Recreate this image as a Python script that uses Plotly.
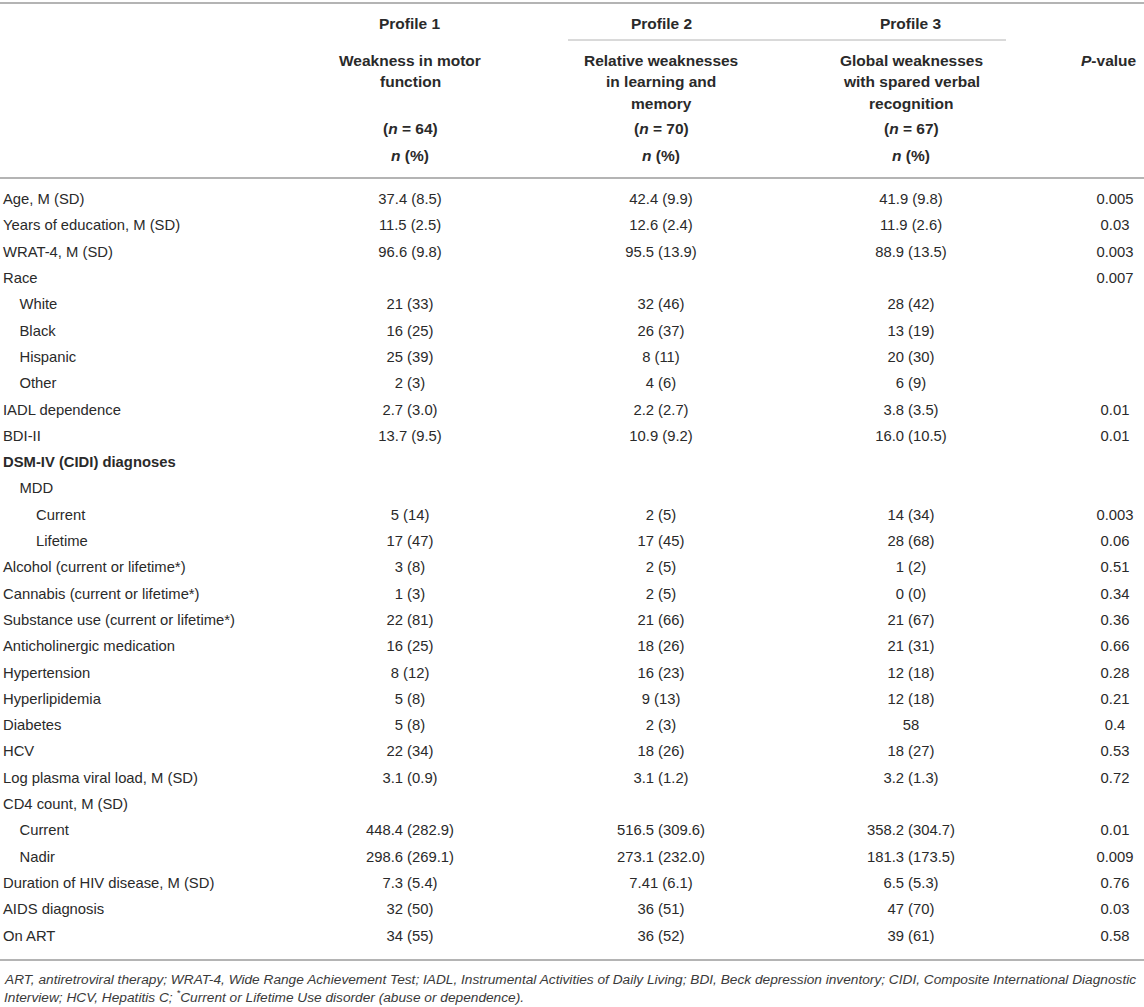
import plotly.graph_objects as go

# ---- table content ----
row_labels = [
    "Age, M (SD)", "Years of education, M (SD)", "WRAT-4, M (SD)", "Race",
    "White", "Black", "Hispanic", "Other", "IADL dependence", "BDI-II",
    "<b>DSM-IV (CIDI) diagnoses</b>", "MDD", "Current", "Lifetime",
    "Alcohol (current or lifetime*)", "Cannabis (current or lifetime*)",
    "Substance use (current or lifetime*)", "Anticholinergic medication",
    "Hypertension", "Hyperlipidemia", "Diabetes", "HCV",
    "Log plasma viral load, M (SD)", "CD4 count, M (SD)", "Current", "Nadir",
    "Duration of HIV disease, M (SD)", "AIDS diagnosis", "On ART",
]
row_indent = [0, 0, 0, 0, 1, 1, 1, 1, 0, 0, 0, 1, 2, 2, 0, 0, 0, 0, 0, 0, 0, 0,
              0, 0, 1, 1, 0, 0, 0]

profile1 = ["37.4 (8.5)", "11.5 (2.5)", "96.6 (9.8)", "", "21 (33)", "16 (25)",
            "25 (39)", "2 (3)", "2.7 (3.0)", "13.7 (9.5)", "", "", "5 (14)",
            "17 (47)", "3 (8)", "1 (3)", "22 (81)", "16 (25)", "8 (12)", "5 (8)",
            "5 (8)", "22 (34)", "3.1 (0.9)", "", "448.4 (282.9)", "298.6 (269.1)",
            "7.3 (5.4)", "32 (50)", "34 (55)"]
profile2 = ["42.4 (9.9)", "12.6 (2.4)", "95.5 (13.9)", "", "32 (46)", "26 (37)",
            "8 (11)", "4 (6)", "2.2 (2.7)", "10.9 (9.2)", "", "", "2 (5)",
            "17 (45)", "2 (5)", "2 (5)", "21 (66)", "18 (26)", "16 (23)", "9 (13)",
            "2 (3)", "18 (26)", "3.1 (1.2)", "", "516.5 (309.6)", "273.1 (232.0)",
            "7.41 (6.1)", "36 (51)", "36 (52)"]
profile3 = ["41.9 (9.8)", "11.9 (2.6)", "88.9 (13.5)", "", "28 (42)", "13 (19)",
            "20 (30)", "6 (9)", "3.8 (3.5)", "16.0 (10.5)", "", "", "14 (34)",
            "28 (68)", "1 (2)", "0 (0)", "21 (67)", "21 (31)", "12 (18)", "12 (18)",
            "58", "18 (27)", "3.2 (1.3)", "", "358.2 (304.7)", "181.3 (173.5)",
            "6.5 (5.3)", "47 (70)", "39 (61)"]
p_values = ["0.005", "0.03", "0.003", "0.007", "", "", "", "", "0.01", "0.01",
            "", "", "0.003", "0.06", "0.51", "0.34", "0.36", "0.66", "0.28",
            "0.21", "0.4", "0.53", "0.72", "", "0.01", "0.009", "0.76", "0.03",
            "0.58"]

profile_titles = ["Profile 1", "Profile 2", "Profile 3"]
profile_desc = [
    ["Weakness in motor", "function"],
    ["Relative weaknesses", "in learning and", "memory"],
    ["Global weaknesses", "with spared verbal", "recognition"],
]
profile_n = [64, 70, 67]

footnote = [
    "ART, antiretroviral therapy; WRAT-4, Wide Range Achievement Test; IADL, "
    "Instrumental Activities of Daily Living; BDI, Beck depression inventory; "
    "CIDI, Composite International Diagnostic",
    "Interview; HCV, Hepatitis C; <sup>*</sup>Current or Lifetime Use disorder "
    "(abuse or dependence).",
]

# ---- layout constants (pixels) ----
W, H = 1144, 1007
col_x = [410, 661, 911]
p_x = 1115
row_top, row_h = 200.5, 26.3
label_x, indent_w = 3, 16.5
FONT = "Liberation Sans, Arial, sans-serif"
TXT = "#2a2a2a"
RULE = "#b4b4b4"

row_y = [row_top + i * row_h for i in range(len(row_labels))]

fig = go.Figure()


def text_column(xs, vals, pos):
    # skip blank cells so no empty text nodes get drawn
    keep = [i for i, v in enumerate(vals) if v]
    fig.add_trace(go.Scatter(
        x=[xs[i] for i in keep], y=[row_y[i] for i in keep],
        text=[vals[i] for i in keep], mode="text", textposition=pos,
        textfont=dict(family=FONT, size=14.8, color=TXT),
        hoverinfo="skip", showlegend=False,
    ))


text_column([label_x + k * indent_w for k in row_indent], row_labels, "middle right")
for cx, vals in zip(col_x + [p_x], [profile1, profile2, profile3, p_values]):
    text_column([cx] * len(vals), vals, "middle center")

annots = []
def hdr(x, y, text):
    annots.append(dict(x=x, y=y, xref="x", yref="y", text=text, showarrow=False,
                       xanchor="center", yanchor="middle",
                       font=dict(family=FONT, size=15.5, color=TXT)))

for cx, title, desc, n in zip(col_x, profile_titles, profile_desc, profile_n):
    hdr(cx, 23, "<b>%s</b>" % title)
    for j, line in enumerate(desc):
        hdr(cx, 60 + j * 21.5, "<b>%s</b>" % line)
    hdr(cx, 128, "<b>(<i>n</i> = %d)</b>" % n)
    hdr(cx, 155, "<b><i>n</i> (%)</b>")
hdr(1109, 60, "<b><i>P</i>-value</b>")

for j, line in enumerate(footnote):
    annots.append(dict(x=2, y=979 + j * 16.5, xref="x", yref="y",
                       text="<i>%s</i>" % line, showarrow=False,
                       xanchor="left", yanchor="middle",
                       font=dict(family=FONT, size=13.7, color="#3a3a3a")))

shapes = [
    dict(type="line", x0=0, x1=W, y0=3, y1=3, line=dict(color=RULE, width=2)),
    dict(type="line", x0=568, x1=1006, y0=40, y1=40, line=dict(color=RULE, width=1)),
    dict(type="line", x0=0, x1=W, y0=178, y1=178, line=dict(color=RULE, width=2)),
    dict(type="line", x0=0, x1=W, y0=960, y1=960, line=dict(color=RULE, width=2)),
]
for s in shapes:
    s.update(xref="x", yref="y", layer="below")

fig.update_layout(
    width=W, height=H, margin=dict(l=0, r=0, t=0, b=0),
    paper_bgcolor="white", plot_bgcolor="white",
    xaxis=dict(range=[0, W], visible=False, fixedrange=True),
    yaxis=dict(range=[H, 0], visible=False, fixedrange=True),
    annotations=annots, shapes=shapes,
)

# page has an 8px default body margin; drop it so the figure fills the window
fig.write_html("out.html", config={"displayModeBar": False},
               post_script="document.body.style.margin='0';document.body.style.overflow='hidden';")
